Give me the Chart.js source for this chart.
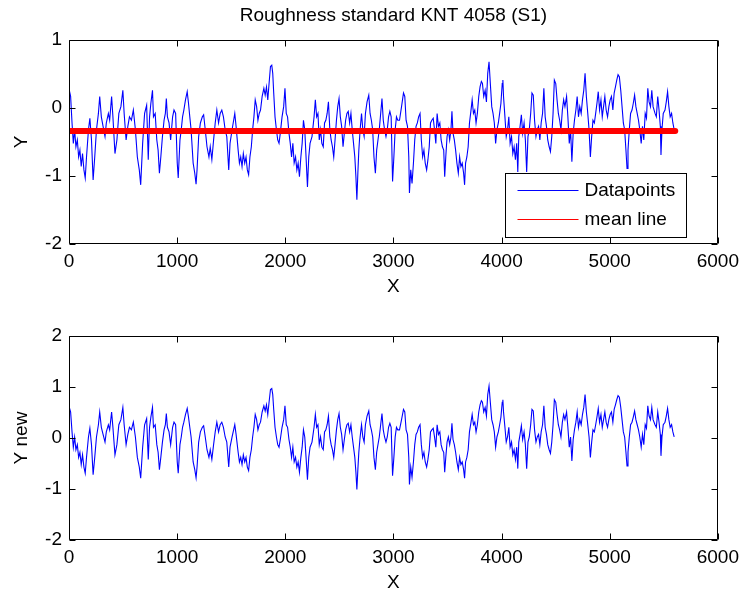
<!DOCTYPE html>
<html><head><meta charset="utf-8">
<script src="https://cdn.jsdelivr.net/npm/chart.js@4.4.0/dist/chart.umd.min.js"></script>
<style>
html,body{margin:0;padding:0;background:#fff;}
#wrap{position:relative;width:745px;height:599px;background:#fff;}
canvas{position:absolute;left:0;}
#c1{top:0;} #c2{top:300px;}
</style></head><body>
<div id="wrap"><canvas id="c1" width="745" height="300"></canvas><canvas id="c2" width="745" height="299"></canvas></div>
<script>
// ---- data ----
const xValues = [3,15,28,40,52,64,77,89,101,113,125,138,150,162,180,193,208,223,238,254,272,284,299,315,333,345,364,376,394,406,425,443,461,480,498,510,528,544,559,577,595,614,632,650,663,681,699,718,733,
745,757,772,781,797,812,824,836,849,864,879,891,900,910,925,940,958,971,986,1001,1010,1026,1038,1050,1062,1077,1093,1105,1117,1129,1148,1163,1175,1184,1199,1215,1233,1245,1260,1276,1294,1306,1321,1337,1352,1367,1383,1398,1413,1428,1444,1459,1477,1489,1508,
1533,1545,1564,1576,1588,1600,1612,1625,1637,1649,1661,1673,1686,1698,1710,1722,1735,1747,1759,1771,1786,1802,1814,1826,1838,1850,1863,1875,1884,1893,1905,1918,1930,1942,1954,1970,1985,1997,2009,2021,2034,2046,2058,2070,2082,2095,2107,2119,2131,2144,2156,2168,2180,2192,2205,2217,2229,2247,2266,2278,
2290,2302,2314,2326,2338,2351,2363,2375,2387,2399,2412,2424,2436,2448,2460,2473,2485,2497,2509,2521,2534,2546,2558,2570,2582,2595,2607,2619,2631,2643,2653,2662,2671,2680,2692,2705,2717,2729,2741,2756,2772,2784,2796,2808,2820,2833,2845,2857,2869,2882,2894,2906,2918,2931,2943,2955,2967,2979,2992,3004,3016,3028,3040,
3056,3075,3093,3105,3117,3130,3142,3148,3160,3172,3185,3197,3209,3221,3233,3246,3258,3270,3282,3294,3307,3319,3331,3343,3355,3368,3380,3392,3404,3416,3429,3441,3453,3465,3474,3484,3496,3508,3520,3532,3541,3551,3563,3575,3587,3600,3612,3624,3636,3649,3658,3667,3679,3691,3703,3716,3728,3740,3752,3764,3776,3789,3801,3813,
3823,3835,3848,3860,3872,3884,3896,3909,3921,3933,3945,3957,3970,3982,3994,4006,4012,4018,4031,4043,4055,4067,4079,4092,4104,4116,4128,4140,4150,4159,4171,4183,4195,4208,4220,4232,4244,4256,4269,4281,4293,4305,4318,4330,4342,4354,4366,4379,4391,4403,4415,4427,4440,4452,4464,4476,4488,4501,4513,4525,4537,4549,4562,4574,4586,
4601,4613,4626,4638,4650,4662,4674,4687,4699,4711,4723,4736,4748,4760,4772,4784,4797,4809,4821,4833,4845,4858,4870,4882,4894,4906,4919,4931,4943,4955,4967,4980,4992,5004,5016,5029,5041,5053,5065,5077,5089,5102,5114,5126,5138,5150,5160,5169,5181,5193,5206,5218,5230,5242,5254,5266,5278,5291,5303,5315,5328,5340,5352,5364,5377,5389,5401,
5419,5431,5444,5456,5468,5474,5483,5495,5511,5523,5535,5547,5559,5572,5584,5596];
const yValues = [0.26,0.17,-0.22,-0.52,-0.32,-0.57,-0.47,-0.72,-0.62,-0.86,-0.67,-0.91,-1.03,-0.72,-0.32,-0.15,-0.47,-1.06,-0.72,-0.32,-0.08,0.17,-0.13,-0.27,-0.42,-0.22,-0.08,-0.18,0.17,-0.13,-0.67,-0.47,-0.08,0.02,0.26,-0.08,-0.47,-0.27,-0.13,-0.18,-0.03,-0.32,-0.72,-0.91,-1.13,-0.52,-0.08,0.04,-0.76,
-0.13,0.07,0.26,-0.13,-0.08,-0.47,-0.62,-0.96,-0.72,-0.42,-0.18,-0.08,0.14,-0.13,-0.22,-0.47,-0.13,-0.03,-0.08,-0.81,-1.03,-0.47,-0.32,-0.13,-0.03,0.12,0.24,0.07,-0.13,-0.32,-0.81,-0.96,-1.12,-0.91,-0.42,-0.22,-0.13,-0.10,-0.32,-0.57,-0.72,-0.57,-0.76,-0.47,-0.22,-0.03,-0.22,-0.08,-0.03,-0.13,-0.32,-0.42,-0.91,-0.52,-0.32,
-0.08,-0.27,-0.62,-0.81,-0.72,-0.86,-0.67,-0.81,-0.72,-0.91,-0.98,-0.72,-0.57,-0.32,-0.13,0.12,0.02,-0.18,-0.08,-0.03,0.17,0.29,0.19,0.31,0.12,0.36,0.61,0.63,0.51,0.22,-0.13,-0.32,-0.47,-0.52,-0.37,-0.13,0.02,0.29,-0.08,-0.13,-0.37,-0.52,-0.72,-0.52,-0.81,-0.72,-0.91,-0.81,-1.01,-0.72,-0.52,-0.18,-0.32,-0.72,-1.16,-0.72,-0.52,-0.42,-0.13,0.12,
-0.13,-0.08,-0.47,-0.32,-0.52,-0.57,-0.22,-0.18,-0.08,0.09,-0.32,-0.47,-0.57,-0.72,-0.47,-0.18,0.02,0.14,-0.13,-0.27,-0.57,-0.37,-0.18,-0.08,-0.05,-0.22,-0.08,-0.32,-0.52,-0.72,-1.01,-1.35,-0.96,-0.62,-0.32,-0.08,-0.32,-0.42,-0.08,0.09,0.19,-0.08,-0.18,-0.32,-0.72,-0.96,-0.62,-0.47,-0.32,-0.08,0.14,-0.18,-0.32,-0.42,-0.32,-0.13,-0.05,-0.13,-1.08,-0.72,-0.32,-0.13,-0.18,
-0.18,0.02,0.22,0.17,-0.18,-0.27,-0.72,-1.25,-0.91,-1.11,-0.81,-0.47,-0.27,-0.22,-0.13,-0.08,-0.47,-0.72,-0.62,-0.81,-0.91,-0.76,-0.57,-0.22,-0.18,-0.15,-0.32,-0.52,-0.08,-0.27,-0.22,-0.47,-0.57,-0.62,-1.01,-0.72,-0.42,-0.32,-0.47,-0.32,-0.05,-0.37,-0.47,-0.62,-0.81,-0.96,-0.72,-0.86,-0.81,-0.96,-1.13,-0.81,-0.72,-0.57,-0.22,-0.05,0.12,-0.08,-0.03,-0.22,-0.08,0.17,0.31,0.39,
0.36,0.17,0.26,0.09,0.51,0.68,0.36,0.02,-0.08,-0.22,-0.52,-0.32,-0.22,-0.08,0.07,0.36,0.41,0.17,-0.13,-0.42,-0.32,-0.13,-0.52,-0.42,-0.67,-0.57,-0.76,-0.52,-0.94,-0.42,-0.27,-0.10,-0.37,-0.22,-0.47,-0.94,-0.42,-0.32,-0.08,0.22,0.19,-0.18,-0.42,-0.32,-0.27,-0.47,-0.22,-0.08,0.29,-0.13,-0.27,-0.47,-0.57,-0.64,-0.42,-0.08,0.41,0.36,0.12,-0.08,-0.18,-0.32,-0.03,0.12,0.02,
0.17,-0.13,-0.52,-0.32,-0.79,-0.37,-0.18,-0.03,0.17,-0.13,0.02,-0.08,0.12,0.26,0.51,0.17,-0.08,-0.32,-0.72,-0.42,-0.18,-0.22,-0.08,0.07,0.24,-0.03,0.12,-0.13,0.02,0.17,-0.03,-0.13,0.02,0.12,0.17,-0.03,0.22,0.31,0.41,0.49,0.46,0.26,0.02,-0.22,-0.32,-0.62,-0.89,-0.62,-0.32,-0.08,-0.03,0.07,0.19,0.02,-0.08,-0.18,-0.32,-0.52,-0.27,-0.47,-0.08,-0.15,0.29,0.09,0.02,0.26,0.02,
-0.08,-0.13,0.17,-0.03,-0.27,-0.69,-0.32,-0.08,-0.03,0.09,0.24,0.02,-0.13,-0.08,-0.22,-0.32];
const meanValue = -0.34;
const yNewValues = yValues.map(v => +(v - meanValue).toFixed(2));
const titleText = 'Roughness standard KNT 4058 (S1)';
const xLabel = 'X';
const yLabelTop = 'Y';
const yLabelBottom = 'Y new';
const seriesNames = ['Datapoints', 'mean line'];

// ---- styling / drawing ----
const FONT = "'Liberation Sans', Arial, Helvetica, sans-serif";
Chart.defaults.font.family = FONT;
Chart.defaults.font.size = 19;
Chart.defaults.color = '#000';
const BLUE = '#0000ff', RED = '#ff0000';
const seriesColors = [BLUE, RED];

const framePlugin = {
  id: 'frame',
  afterDatasetsDraw(chart) {
    const {ctx, chartArea: a, scales: {x, y}} = chart;
    ctx.save();
    ctx.strokeStyle = '#000'; ctx.lineWidth = 1;
    const L = Math.round(a.left) + 0.5, R = Math.round(a.right) - 0.5;
    const T = Math.round(a.top) + 0.5, B = Math.round(a.bottom) - 0.5;
    ctx.beginPath();
    ctx.rect(L, T, R - L, B - T);
    const tl = 6;
    x.ticks.forEach(t => { const p = Math.round(x.getPixelForValue(t.value)) + 0.5;
      ctx.moveTo(p, B); ctx.lineTo(p, B - tl); ctx.moveTo(p, T); ctx.lineTo(p, T + tl); });
    y.ticks.forEach(t => { const p = Math.round(y.getPixelForValue(t.value)) + 0.5;
      ctx.moveTo(L, p); ctx.lineTo(L + tl, p); ctx.moveTo(R, p); ctx.lineTo(R - tl, p); });
    ctx.stroke();
    ctx.restore();
  }
};

const boxLegend = {
  id: 'boxLegend',
  afterDraw(chart, args, opts) {
    if (!opts || !opts.show) return;
    const {ctx, chartArea: a} = chart;
    const x0 = Math.round(a.right) - 213 + 0.5, y0 = Math.round(a.bottom) - 71 + 0.5, w = 181, h = 64;
    ctx.save();
    ctx.fillStyle = '#fff'; ctx.fillRect(x0, y0, w, h);
    ctx.strokeStyle = '#000'; ctx.lineWidth = 1; ctx.strokeRect(x0, y0, w, h);
    const rows = [16, 45];
    ctx.font = '19px ' + FONT; ctx.textBaseline = 'middle'; ctx.textAlign = 'left';
    seriesNames.forEach((name, i) => {
      const yy = Math.round(y0 + rows[i]) + 0.5;
      ctx.strokeStyle = seriesColors[i]; ctx.lineWidth = 1;
      ctx.beginPath(); ctx.moveTo(x0 + 12, yy); ctx.lineTo(x0 + 73, yy); ctx.stroke();
      ctx.fillStyle = '#000'; ctx.fillText(name, x0 + 79, yy);
    });
    ctx.restore();
  }
};

function makeChart(id, opts) {
  const datasets = [{
    label: seriesNames[0],
    data: xValues.map((x, i) => ({x, y: opts.values[i]})),
    borderColor: seriesColors[0], borderWidth: 1.1, pointRadius: 0, tension: 0, order: 2, fill: false
  }];
  if (opts.mean) {
    datasets.push({
      label: seriesNames[1],
      data: [{x: xValues[0] - 3, y: meanValue}, {x: xValues[xValues.length - 1] + 10, y: meanValue}],
      borderColor: seriesColors[1], borderWidth: 6, pointRadius: 0, borderCapStyle: 'round', order: 1, fill: false
    });
  }
  return new Chart(document.getElementById(id), {
    type: 'line',
    data: {datasets},
    options: {
      responsive: false, animation: false, devicePixelRatio: 1,
      layout: {padding: {left: 0, right: 21, top: opts.padTop, bottom: 0}},
      plugins: {
        legend: {display: false}, tooltip: {enabled: false},
        title: opts.title ? {display: true, text: opts.title, fullSize: false, color: '#000',
          font: {size: 19, weight: 'normal', family: FONT}, padding: {top: 4.6, bottom: 12.6}} : {display: false},
        boxLegend: {show: !!opts.mean}
      },
      scales: {
        x: {
          type: 'linear', min: 0, max: 6000,
          afterFit: s => { s.height = opts.xH; },
          ticks: {stepSize: 1000, color: '#000', padding: 6, maxRotation: 0, autoSkip: false,
            font: {size: 19, family: FONT}, callback: v => String(v)},
          grid: {display: false, drawTicks: false}, border: {display: false},
          title: {display: true, text: xLabel, color: '#000', font: {size: 19, family: FONT},
            padding: {top: 0, bottom: opts.xTitlePad}}
        },
        y: {
          type: 'linear', min: opts.yMin, max: opts.yMax,
          afterFit: s => { s.width = 69; },
          ticks: {stepSize: 1, color: '#000', padding: 7, font: {size: 19, family: FONT}, callback: v => String(v)},
          grid: {display: false, drawTicks: false}, border: {display: false},
          title: {display: true, text: opts.yLabel, color: '#000', font: {size: 19, family: FONT},
            padding: {top: 10.6, bottom: 0}}
        }
      }
    },
    plugins: [framePlugin, boxLegend]
  });
}

makeChart('c1', {values: yValues, mean: true, title: titleText, padTop: 0, xH: 56, xTitlePad: 1.6,
  yMin: -2, yMax: 1, yLabel: yLabelTop});
makeChart('c2', {values: yNewValues, mean: false, title: null, padTop: 36, xH: 59, xTitlePad: 4.6,
  yMin: -2, yMax: 2, yLabel: yLabelBottom});
</script>
</body></html>
